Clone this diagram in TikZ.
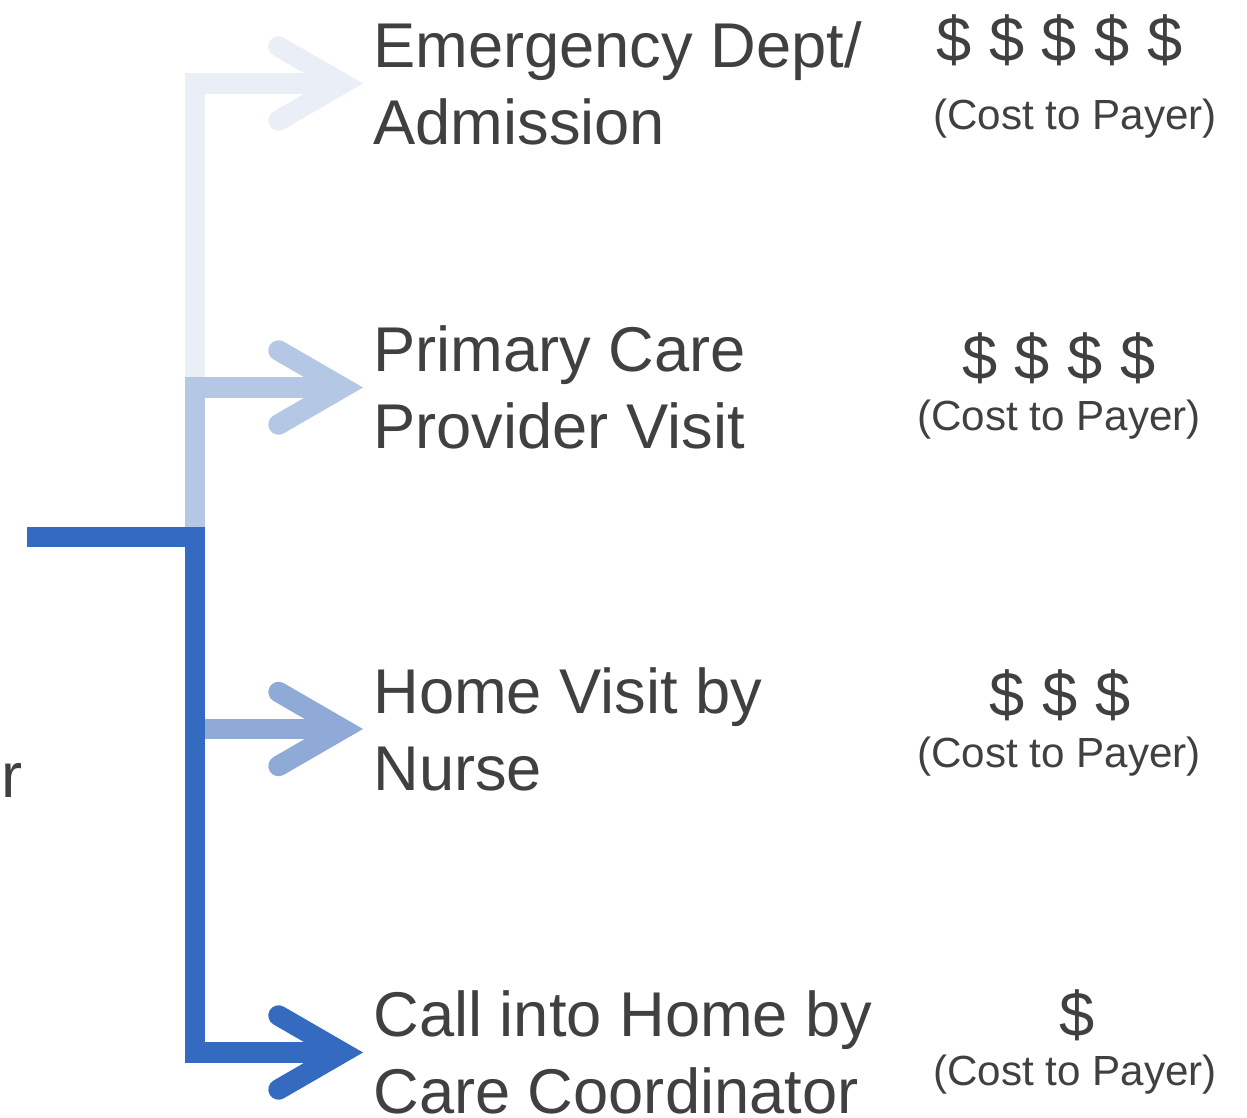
\documentclass[tikz,border=0pt]{standalone}
\usepackage{fontspec}
\setmainfont{Liberation Sans}
\usetikzlibrary{arrows.meta}

\definecolor{txtgray}{RGB}{64,64,64}
\definecolor{edblue}{RGB}{233,238,247}
\definecolor{pcpblue}{RGB}{180,199,228}
\definecolor{hvblue}{RGB}{143,170,214}
\definecolor{ccblue}{RGB}{52,106,192}

\tikzset{
  flow/.style={line width=0.41cm,
    -{Straight Barb[length=1.28cm, width=1.48cm, line width=0pt 1,
      line cap=round, line join=miter]}},
  option/.style={anchor=west, align=left, inner xsep=0.2cm, inner ysep=0pt,
    text=txtgray, font=\fontsize{36}{43.8}\selectfont},
  dollars/.style={anchor=base, inner sep=0pt, text=txtgray,
    font=\fontsize{36}{43.8}\selectfont},
  payer/.style={anchor=base, inner sep=0pt, text=txtgray,
    font=\fontsize{24}{28}\selectfont},
}

\begin{document}
\begin{tikzpicture}[x=0.02cm, y=-0.02cm]
  \useasboundingbox (0,0) rectangle (1247,1118);

  % care options, most to least expensive
  \node (ed)  [option] at (363,83.5)   {Emergency Dept/\\Admission};
  \node (pcp) [option] at (363,387.5)  {Primary Care\\Provider Visit};
  \node (hv)  [option] at (363,729)    {Home Visit by\\Nurse};
  \node (cc)  [option] at (363,1052.5) {Call into Home by\\Care Coordinator};

  % cost column
  \node (edcost)  [dollars] at (1059.5,62) {\$ \$ \$ \$ \$};
  \node (edpay)   [payer]   at (1075,130)  {(Cost to Payer)};
  \node (pcpcost) [dollars] at (1059,379)  {\$ \$ \$ \$};
  \node (pcppay)  [payer]   at (1059,430)  {(Cost to Payer)};
  \node (hvcost)  [dollars] at (1060,716)  {\$ \$ \$};
  \node (hvpay)   [payer]   at (1059,767)  {(Cost to Payer)};
  \node (cccost)  [dollars] at (1077,1036) {\$};
  \node (ccpay)   [payer]   at (1075,1085) {(Cost to Payer)};

  \node (src) [dollars, anchor=base west] at (1,797) {r};

  \coordinate (start) at (27,537);
  \coordinate (split) at (195,537);

  \draw[flow, edblue]  (split) |- (ed.west);
  \draw[flow, pcpblue] (split) |- (pcp.west);
  \draw[flow, hvblue]  (split) |- (hv.west);
  \draw[flow, ccblue]  (start) -- (split) |- (cc.west);
\end{tikzpicture}
\end{document}
